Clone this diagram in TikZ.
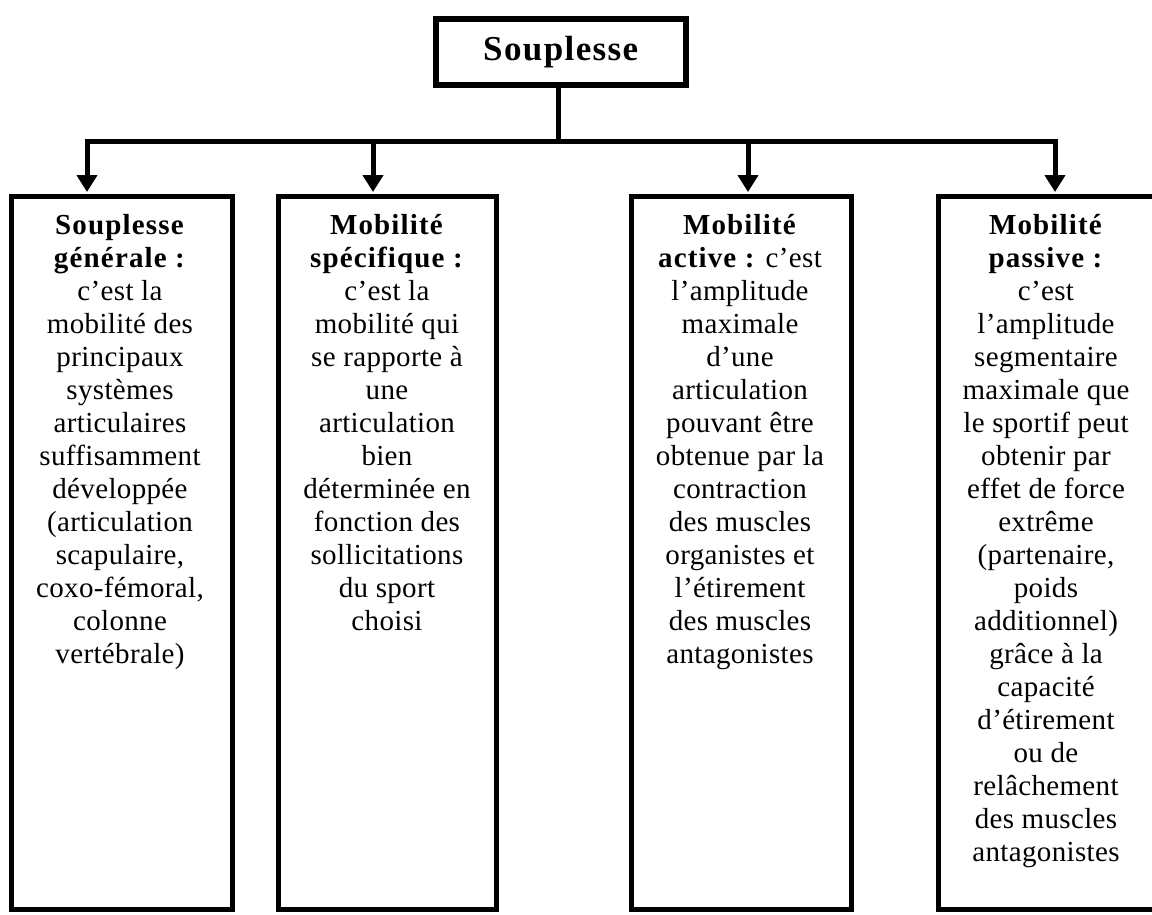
\documentclass[tikz,border=0pt]{standalone}
\usepackage{fontspec}
\setmainfont{Liberation Serif}[LetterSpace=1.2, BoldFeatures={LetterSpace=4}]
\usetikzlibrary{arrows.meta}
\begin{document}
\begin{tikzpicture}[x=1pt,y=-1pt,
  box/.style={draw, line width=5pt, inner sep=0pt},
  txt/.style={anchor=north, inner sep=0pt, align=center, font=\fontsize{29}{33}\selectfont},
  arr/.style={line width=5pt, line join=miter, -{Triangle[width=20pt,length=17pt]}}]
\useasboundingbox (0,0) rectangle (1152,914);
\clip (0,0) rectangle (1152,914);
% title
\node[draw, line width=6pt, minimum width=249.5pt, minimum height=66.5pt, inner sep=0pt,
      font=\fontsize{35}{39}\selectfont\bfseries] (top) at (560.75,51.75) {Souplesse};
% boxes
\node[box, minimum width=221pt, minimum height=713pt] (b1) at (121.5,552.5) {};
\node[box, minimum width=217.5pt, minimum height=713pt] (b2) at (387.25,552.5) {};
\node[box, minimum width=220pt, minimum height=713pt] (b3) at (741,552.5) {};
\node[box, minimum width=232pt, minimum height=713pt] (b4) at (1054,552.5) {};
% texts
\node[txt] (x1) at (120,214) {\textbf{Souplesse}\\ \textbf{générale :}\\ c’est la\\ mobilité des\\ principaux\\ systèmes\\ articulaires\\ suffisamment\\ développée\\ (articulation\\ scapulaire,\\ coxo-fémoral,\\ colonne\\ vertébrale)};
\node[txt] (x2) at (387,214) {\textbf{Mobilité}\\ \textbf{spécifique :}\\ c’est la\\ mobilité qui\\ se rapporte à\\ une\\ articulation\\ bien\\ déterminée en\\ fonction des\\ sollicitations\\ du sport\\ choisi};
\node[txt] (x3) at (740,214) {\textbf{Mobilité}\\ \textbf{active :} c’est\\ l’amplitude\\ maximale\\ d’une\\ articulation\\ pouvant être\\ obtenue par la\\ contraction\\ des muscles\\ organistes et\\ l’étirement\\ des muscles\\ antagonistes};
\node[txt] (x4) at (1046,214) {\textbf{Mobilité}\\ \textbf{passive :}\\ c’est\\ l’amplitude\\ segmentaire\\ maximale que\\ le sportif peut\\ obtenir par\\ effet de force\\ extrême\\ (partenaire,\\ poids\\ additionnel)\\ grâce à la\\ capacité\\ d’étirement\\ ou de\\ relâchement\\ des muscles\\ antagonistes};
% connectors
\coordinate (j) at (558,141);
\coordinate (a1) at (87,192);
\coordinate (a2) at (373,192);
\coordinate (a3) at (748,192);
\coordinate (a4) at (1055,192);
\foreach \t in {a1,a2,a3,a4}
  \draw[arr] (j |- top.south) -- (j) -| (\t);
\end{tikzpicture}
\end{document}
